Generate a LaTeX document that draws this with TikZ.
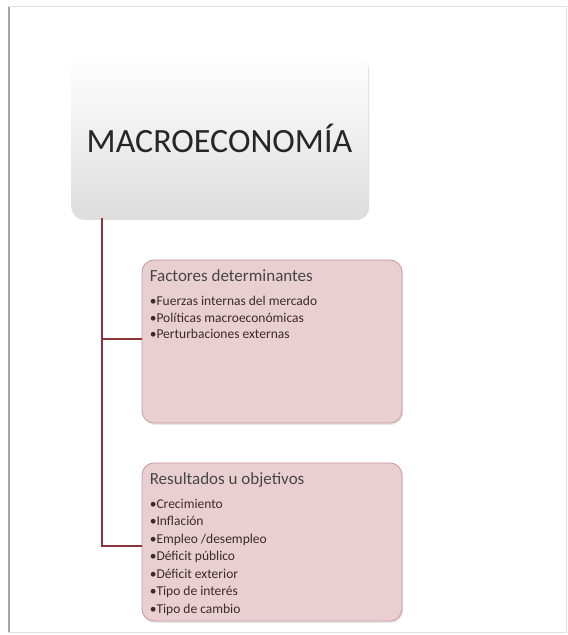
\documentclass[tikz,border=0pt]{standalone}
\usepackage{fontspec}
\setmainfont{Carlito}
\usetikzlibrary{positioning,shadows}

\definecolor{boxpink}{RGB}{233,206,210}
\definecolor{boxline}{RGB}{205,150,155}
\definecolor{trunkred}{RGB}{140,52,58}
\definecolor{titlegray}{RGB}{70,70,70}
\definecolor{itemtext}{RGB}{62,42,42}

\tikzset{
  mainbox/.style={rounded corners=12pt, minimum width=297pt, minimum height=163pt,
    top color=white, bottom color=black!13, inner sep=0pt,
    drop shadow={opacity=0.25, shadow xshift=1pt, shadow yshift=-2pt}},
  pinkbox/.style={draw=boxline, fill=boxpink, rounded corners=12pt, line width=0.8pt,
    minimum width=260pt, inner sep=0pt,
    drop shadow={opacity=0.2, shadow xshift=1pt, shadow yshift=-2pt}},
  boxtitle/.style={anchor=base west, inner sep=0pt, text=titlegray,
    font=\fontsize{17}{20}\selectfont},
  itemlist/.style={anchor=north west, inner sep=0pt, align=left, text=itemtext,
    font=\fontsize{13.5}{#1}\selectfont},
  itemlist/.default=16.7,
  trunk/.style={draw=trunkred, line width=1.6pt}
}

\begin{document}
\begin{tikzpicture}[x=1pt, y=1pt]
    \useasboundingbox (0,0) rectangle (568,635);

    % marco
    \draw[black!12, line width=1pt] (8,2) rectangle (566,628);
    \draw[black!35, line width=2pt] (9,3) -- (9,628);

    % caja principal
    \node[mainbox] (macro) at (219.5, 498.5) {};
    \node[font=\fontsize{34}{40}\selectfont, text=black!85] (macro-text) at (219.5, 497) {MACROECONOMÍA};

    % factores
    \node[pinkbox, minimum height=163pt] (fac) at (272, 293.5) {};
    \node[boxtitle] (fac-title) at ([shift={(8,-22)}]fac.north west) {Factores determinantes};
    \node[itemlist, below=14pt of fac-title.south west, anchor=north west] (fac-items)
      {•Fuerzas internas del mercado\\•Políticas macroeconómicas\\•Perturbaciones externas};

    % resultados
    \node[pinkbox, minimum height=158pt] (res) at (272, 93) {};
    \node[boxtitle] (res-title) at ([shift={(8,-22)}]res.north west) {Resultados u objetivos};
    \node[itemlist=17.5, below=11pt of res-title.south west, anchor=north west] (res-items)
      {•Crecimiento\\•Inflación\\•Empleo /desempleo\\•Déficit público\\•Déficit exterior\\•Tipo de interés\\•Tipo de cambio};

    % conectores
    \coordinate (stem) at ([xshift=31pt]macro.south west);
    \draw[trunk] (stem) |- ([yshift=2.5pt]fac.west);
    \draw[trunk] (stem) |- ([yshift=-4pt]res.west);
\end{tikzpicture}
\end{document}
